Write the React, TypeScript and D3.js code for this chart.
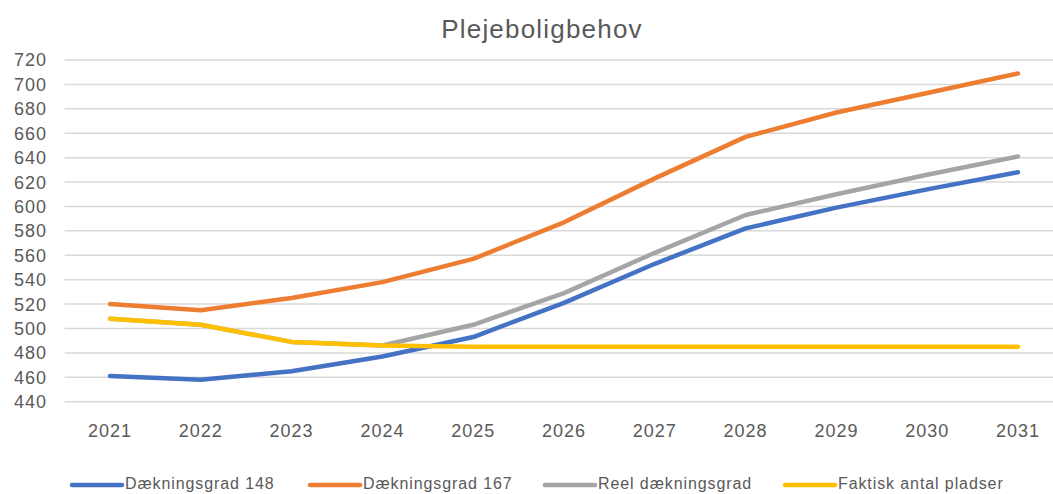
import React, { useEffect, useRef } from "react";
import * as d3 from "d3";

// chart data
const years = ["2021", "2022", "2023", "2024", "2025", "2026", "2027", "2028", "2029", "2030", "2031"];
const daekning148 = [461, 458, 465, 477, 493, 521, 553, 582, 599, 614, 628];
const daekning167 = [520, 515, 525, 538, 557, 587, 623, 657, 677, 693, 709];
const reelDaekning = [508, 503, 489, 486, 503, 529, 562, 593, 610, 626, 641];
const faktiskAntal = [508, 503, 489, 486, 485, 485, 485, 485, 485, 485, 485];
const yTicks = [440, 460, 480, 500, 520, 540, 560, 580, 600, 620, 640, 660, 680, 700, 720];

const seriesNames = ["Dækningsgrad 148", "Dækningsgrad 167", "Reel dækningsgrad", "Faktisk antal pladser"];
const seriesColors = ["#4472C4", "#ED7D31", "#A5A5A5", "#FFC000"];

const FONT = "'Liberation Sans', Arial, sans-serif";

export default function App() {
  const ref = useRef<SVGSVGElement | null>(null);

  useEffect(() => {
    const W = 1053;
    const H = 494;
    const svg = d3.select(ref.current);
    svg.selectAll("*").remove();
    svg.attr("width", W).attr("height", H);

    const x = d3.scaleBand<string>().domain(years).range([64.6, 1063.4]);
    const y = d3.scaleLinear().domain([440, 720]).range([401.7, 60]);
    const cx = (d: string) => (x(d) as number) + x.bandwidth() / 2;

    // title
    svg.append("text")
      .attr("x", 542).attr("y", 38)
      .attr("text-anchor", "middle")
      .attr("font-family", FONT).attr("font-size", 26)
      .attr("letter-spacing", 1.2)
      .attr("fill", "#595959")
      .text("Plejeboligbehov");

    // gridlines
    svg.append("g").selectAll("line")
      .data(yTicks).enter()
      .append("line")
      .attr("x1", 64.6).attr("x2", 1063)
      .attr("y1", d => y(d)).attr("y2", d => y(d))
      .attr("stroke", "#D9D9D9").attr("stroke-width", 1.5);

    // y labels
    svg.append("g").selectAll("text")
      .data(yTicks).enter()
      .append("text")
      .attr("x", 47).attr("y", d => y(d))
      .attr("dy", "0.36em")
      .attr("text-anchor", "end")
      .attr("font-family", FONT).attr("font-size", 18)
      .attr("letter-spacing", 1)
      .attr("fill", "#595959")
      .text(d => String(d));

    // x labels
    svg.append("g").selectAll("text")
      .data(years).enter()
      .append("text")
      .attr("x", d => cx(d)).attr("y", 437)
      .attr("text-anchor", "middle")
      .attr("font-family", FONT).attr("font-size", 18)
      .attr("letter-spacing", 1)
      .attr("fill", "#595959")
      .text(d => d);

    const allSeries = [daekning148, daekning167, reelDaekning, faktiskAntal];
    const line = d3.line<number>()
      .x((_, i) => cx(years[i]))
      .y(d => y(d));

    allSeries.forEach((vals, i) => {
      svg.append("path")
        .datum(vals)
        .attr("d", line)
        .attr("fill", "none")
        .attr("stroke", seriesColors[i])
        .attr("stroke-width", 4.5)
        .attr("stroke-linejoin", "round")
        .attr("stroke-linecap", "round");
    });

    // legend along the bottom edge
    const legendX = [72, 310, 545, 785];
    const lg = svg.append("g");
    seriesNames.forEach((name, i) => {
      lg.append("line")
        .attr("x1", legendX[i]).attr("x2", legendX[i] + 50)
        .attr("y1", 485).attr("y2", 485)
        .attr("stroke", seriesColors[i]).attr("stroke-width", 4.5)
        .attr("stroke-linecap", "round");
      lg.append("text")
        .attr("x", legendX[i] + 53).attr("y", 489)
        .attr("font-family", FONT).attr("font-size", 16)
        .attr("letter-spacing", 0.9)
        .attr("fill", "#595959")
        .text(name);
    });
  }, []);

  return (
    <svg
      ref={ref}
      style={{ position: "absolute", left: 0, top: 0, display: "block", background: "#fff" }}
    />
  );
}
